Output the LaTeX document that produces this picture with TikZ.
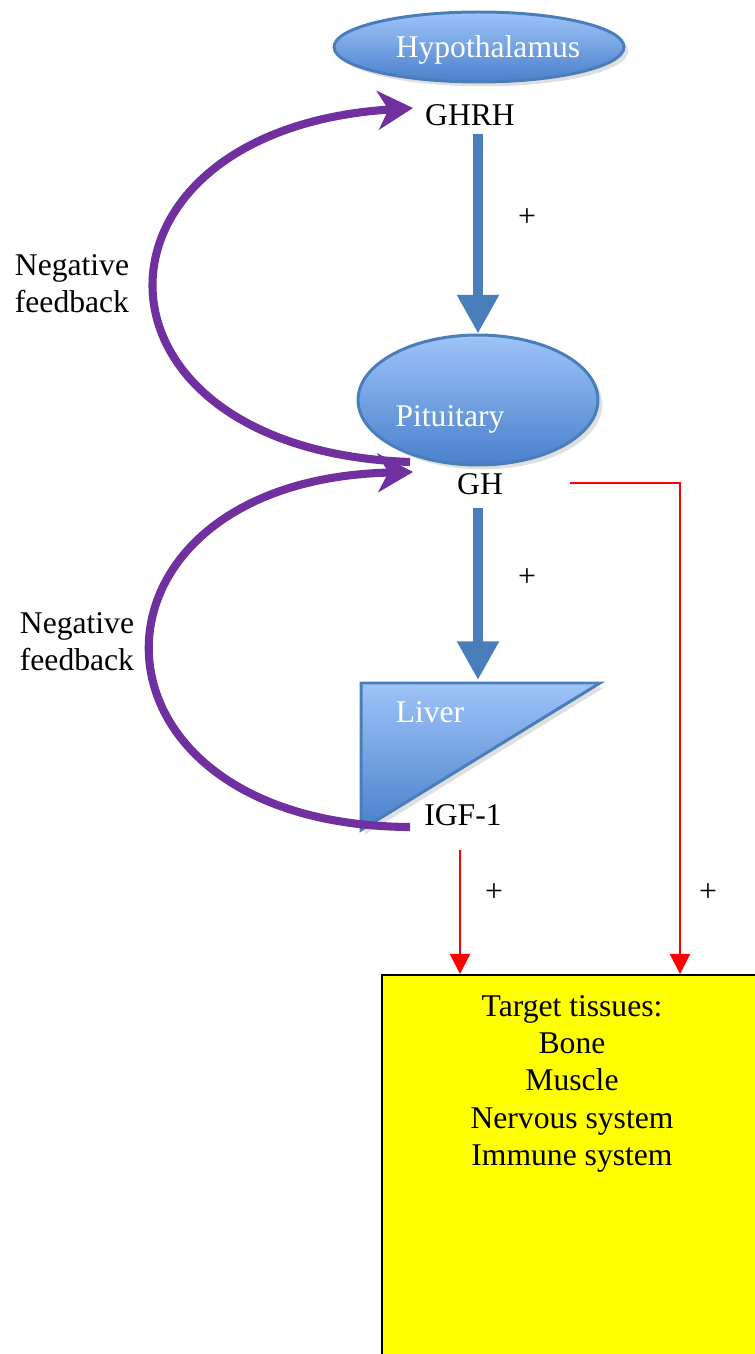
\documentclass[tikz,border=0pt]{standalone}
\usepackage{fontspec}
\setmainfont{Liberation Serif}
\usetikzlibrary{shapes.geometric,arrows.meta,shadows}

\definecolor{organtop}{HTML}{9EC4F8}
\definecolor{organbot}{HTML}{4A80CC}
\definecolor{organline}{HTML}{4A7EBB}
\definecolor{stimblue}{HTML}{4A7EBB}
\definecolor{fbpurple}{HTML}{7030A0}
\definecolor{tissue}{HTML}{FFFF00}

\tikzset{
  lbl/.style={font=\fontsize{18}{21.2}\selectfont, inner sep=0pt},
  organlbl/.style={lbl, text=white},
  organ/.style={ellipse, draw=organline, line width=1.7pt, top color=organtop, bottom color=organbot,
    drop shadow={opacity=0.25, shadow xshift=2.5pt, shadow yshift=-2.5pt}},
  stim/.style={draw=stimblue, line width=5.7pt, -{Triangle[length=22pt,width=22.5pt]}},
  fbarrow/.style={draw=fbpurple, line width=4.6pt, -{Stealth[length=20pt,width=22pt,inset=6pt]}},
  redarrow/.style={draw=red, line width=1.2pt, -{Triangle[length=11.5pt,width=11.5pt]}},
  tissuebox/.style={draw=black, line width=1.4pt, fill=tissue, inner sep=0pt}
}

\begin{document}
\begin{tikzpicture}[x=0.02cm, y=-0.02cm]
    \useasboundingbox (0,0) rectangle (754,1354);

    % organs
    \node[organ, minimum width=5.8cm, minimum height=1.4cm] (hypo) at (479,47) {};
    \node[organlbl] (hypolbl) at (488,50) {Hypothalamus};
    \node[lbl] (ghrh) at (470,115) {GHRH};
    \node[organ, minimum width=4.8cm, minimum height=2.6cm] (pit) at (478,400) {};
    \node[organlbl] (pitlbl) at (450,419) {Pituitary};
    \node[lbl] (gh) at (480,484) {GH};
    \shade[top color=organtop, bottom color=organbot, draw=organline, line width=1.7pt,
      drop shadow={opacity=0.25, shadow xshift=2.5pt, shadow yshift=-2.5pt}]
      (361,683) -- (600,683) -- (361,830) -- cycle;
    \coordinate (livtop) at (478,680);
    \node[organlbl] (liver) at (430,712) {Liver};
    \node[lbl] (igf) at (463,815) {IGF-1};

    \node[tissuebox, anchor=north west, minimum width=7.64cm, minimum height=7.72cm] (target) at (381,974) {};
    \node[lbl, align=center, anchor=north] (tlist) at (572,995)
      {Target tissues:\\Bone\\Muscle\\Nervous system\\Immune system};

    % stimulation
    \coordinate (s1) at (478,134);
    \coordinate (s2) at (478,508);
    \draw[stim] (s1) -- (s1 |- pit.north);
    \draw[stim] (s2) -- (livtop);
    \node[lbl] (p1) at (527,218) {+};
    \node[lbl] (p2) at (527,578) {+};

    % negative feedback
    \coordinate (fb1s) at (410,462);
    \coordinate (fb1e) at (413,108);
    \coordinate (fb2s) at (410,827);
    \coordinate (fb2e) at (413,472);
    \draw[fbarrow] (fb1s) .. controls (70,450) and (70,130) .. (fb1e);
    \draw[fbarrow] (fb2s) .. controls (65,825) and (65,480) .. (fb2e);
    \node[lbl, align=left] (nf1) at (72,284) {Negative\\feedback};
    \node[lbl, align=left] (nf2) at (77,642) {Negative\\feedback};

    % action on tissues
    \coordinate (r1) at (460,850);
    \coordinate (r2) at (570,483);
    \coordinate (r2c) at (680,483);
    \draw[redarrow] (r1) -- (r1 |- target.north);
    \draw[redarrow] (r2) -- (r2c) -- (r2c |- target.north);
    \node[lbl] (p3) at (494,893) {+};
    \node[lbl] (p4) at (708,893) {+};
\end{tikzpicture}
\end{document}
